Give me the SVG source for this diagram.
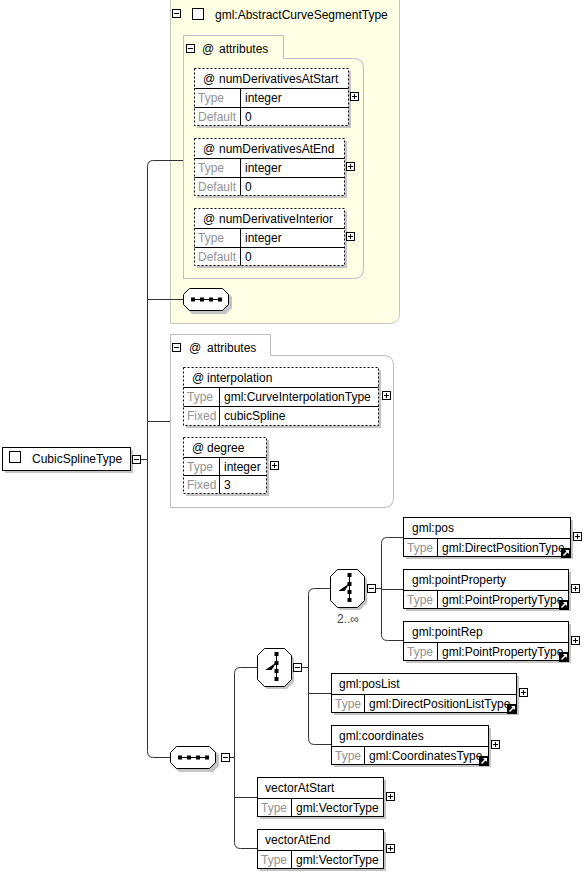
<svg xmlns="http://www.w3.org/2000/svg" xmlns:xlink="http://www.w3.org/1999/xlink" width="584" height="873" viewBox="0 0 584 873">
<style>
text { font-family: "Liberation Sans", Arial, sans-serif; font-size: 12px; fill: #000; }
.g { fill: #939393; }
.occ { font-size: 12px; fill: #444; }
.box { fill: #fff; stroke: #000; stroke-width: 1; }
.dbox { fill: none; stroke: #000; stroke-width: 1; stroke-dasharray: 2,2; }
.sh { fill: #c4c4c4; stroke: none; }
.ln { stroke: #000; stroke-width: 1; fill: none; }
.conn { stroke: #333; stroke-width: 1; fill: none; }
.panel { stroke: #bdbdbd; stroke-width: 1; }
.cb { fill: #fff; stroke: #000; stroke-width: 1; }
</style>
<defs>
  <g id="plus">
    <rect x="0.5" y="0.5" width="8" height="8" fill="#fff" stroke="#000"/>
    <path d="M2 4.5 H7 M4.5 2 V7" stroke="#000" stroke-width="1"/>
  </g>
  <g id="minus">
    <rect x="0.5" y="0.5" width="8" height="8" fill="#fff" stroke="#000"/>
    <path d="M2 4.5 H7" stroke="#000" stroke-width="1"/>
  </g>
  <g id="link">
    <rect x="0" y="0" width="10" height="10" fill="#000"/>
    <path d="M2.5 7.5 L6.5 3.5" stroke="#fff" stroke-width="1.6"/>
    <polygon points="4,2 8,2 8,6" fill="#fff"/>
  </g>
  <g id="seq">
    <path class="sh" d="M9 3 H43 L49 9 V20 L43 26 H9 L3 20 V9 Z"/>
    <path d="M6.5 0.5 H39.5 L45.5 6.5 V16.5 L39.5 22.5 H6.5 L0.5 16.5 V6.5 Z" fill="#fff" stroke="#000"/>
    <path d="M8 11.5 H39" stroke="#000"/>
    <rect x="8" y="9.5" width="4" height="4" fill="#000"/>
    <rect x="17" y="9.5" width="4" height="4" fill="#000"/>
    <rect x="26" y="9.5" width="4" height="4" fill="#000"/>
    <rect x="35" y="9.5" width="4" height="4" fill="#000"/>
  </g>
  <g id="choice">
    <path class="sh" d="M10 3 H30 L37 10 V34 L30 41 H10 L3 34 V10 Z"/>
    <path d="M7.5 0.5 H27.5 L34.5 7.5 V31.5 L27.5 38.5 H7.5 L0.5 31.5 V7.5 Z" fill="#fff" stroke="#000"/>
    <path d="M19.5 4 V33" stroke="#000"/>
    <rect x="17.5" y="4" width="4" height="4" fill="#000"/>
    <rect x="17.5" y="13" width="4" height="4" fill="#000"/>
    <rect x="17.5" y="21" width="4" height="4" fill="#000"/>
    <rect x="17.5" y="29" width="4" height="4" fill="#000"/>
    <path d="M9 21.5 H14.5 L18.5 15" stroke="#000"/>
  </g>
</defs>

<!-- base type group -->
<g id="base-type">
  <path d="M170.5 -2 V323.5 H389.5 Q399.5 323.5 399.5 313.5 V-2" fill="#ffffe6" stroke="#c6c6b8"/>
  <use xlink:href="#minus" x="172" y="9"/>
  <rect class="cb" x="192.5" y="8.5" width="11" height="11"/>
  <text x="215" y="19">gml:AbstractCurveSegmentType</text>
</g>

<g id="attributes-base">
  <path class="panel" d="M183.5 35.5 H283.5 V58.5 H353.5 Q363.5 58.5 363.5 68.5 V268.5 Q363.5 278.5 353.5 278.5 H183.5 Z" fill="none"/>
  <use xlink:href="#minus" x="186" y="44"/>
  <text x="202" y="53">@</text>
  <text x="219" y="53">attributes</text>
</g>

<g id="attr-numDerivativesAtStart">
  <rect class="sh" x="197" y="71" width="154" height="57"/>
  <rect x="194.5" y="68.5" width="154" height="57" fill="#fff"/>
  <path class="ln" d="M194.5 88.5 H348.5 M194.5 107.5 H348.5 M240.5 88.5 V125.5"/>
  <rect class="dbox" x="194.5" y="68.5" width="154" height="57"/>
  <text x="203" y="83">@</text>
  <text x="219" y="83">numDerivativesAtStart</text>
  <text class="g" x="198" y="102">Type</text>
  <text x="245" y="102">integer</text>
  <text class="g" x="198" y="121">Default</text>
  <text x="245" y="121">0</text>
  <use xlink:href="#plus" x="350" y="92"/>
</g>

<g id="attr-numDerivativesAtEnd">
  <rect class="sh" x="197" y="141" width="150" height="57"/>
  <rect x="194.5" y="138.5" width="150" height="57" fill="#fff"/>
  <path class="ln" d="M194.5 158.5 H344.5 M194.5 177.5 H344.5 M240.5 158.5 V195.5"/>
  <rect class="dbox" x="194.5" y="138.5" width="150" height="57"/>
  <text x="203" y="153">@</text>
  <text x="219" y="153">numDerivativesAtEnd</text>
  <text class="g" x="198" y="172">Type</text>
  <text x="245" y="172">integer</text>
  <text class="g" x="198" y="191">Default</text>
  <text x="245" y="191">0</text>
  <use xlink:href="#plus" x="346" y="162"/>
</g>

<g id="attr-numDerivativeInterior">
  <rect class="sh" x="197" y="211" width="150" height="57"/>
  <rect x="194.5" y="208.5" width="150" height="57" fill="#fff"/>
  <path class="ln" d="M194.5 228.5 H344.5 M194.5 247.5 H344.5 M240.5 228.5 V265.5"/>
  <rect class="dbox" x="194.5" y="208.5" width="150" height="57"/>
  <text x="203" y="223">@</text>
  <text x="219" y="223">numDerivativeInterior</text>
  <text class="g" x="198" y="242">Type</text>
  <text x="245" y="242">integer</text>
  <text class="g" x="198" y="261">Default</text>
  <text x="245" y="261">0</text>
  <use xlink:href="#plus" x="346" y="232"/>
</g>

<g id="sequence-base">
  <use xlink:href="#seq" x="183" y="288"/>
</g>

<g id="attributes-own">
  <path class="panel" d="M170.5 334.5 H270.5 V355.5 H383.5 Q393.5 355.5 393.5 365.5 V497.5 Q393.5 507.5 383.5 507.5 H170.5 Z" fill="#fff"/>
  <use xlink:href="#minus" x="172" y="343"/>
  <text x="189" y="352">@</text>
  <text x="207" y="352">attributes</text>
</g>

<g id="attr-interpolation">
  <rect class="sh" x="186" y="370" width="195" height="58"/>
  <rect x="183.5" y="367.5" width="195" height="58" fill="#fff"/>
  <path class="ln" d="M183.5 387.5 H378.5 M183.5 406.5 H378.5 M219.5 387.5 V425.5"/>
  <rect class="dbox" x="183.5" y="367.5" width="195" height="58"/>
  <text x="192" y="382">@</text>
  <text x="207" y="382">interpolation</text>
  <text class="g" x="187" y="401">Type</text>
  <text x="224" y="401">gml:CurveInterpolationType</text>
  <text class="g" x="187" y="420">Fixed</text>
  <text x="224" y="420">cubicSpline</text>
  <use xlink:href="#plus" x="382" y="391"/>
</g>

<g id="attr-degree">
  <rect class="sh" x="186" y="440" width="83" height="56"/>
  <rect x="183.5" y="437.5" width="83" height="56" fill="#fff"/>
  <path class="ln" d="M183.5 457.5 H266.5 M183.5 475.5 H266.5 M219.5 457.5 V493.5"/>
  <rect class="dbox" x="183.5" y="437.5" width="83" height="56"/>
  <text x="192" y="452">@</text>
  <text x="207" y="452">degree</text>
  <text class="g" x="187" y="471">Type</text>
  <text x="224" y="471">integer</text>
  <text class="g" x="187" y="489">Fixed</text>
  <text x="224" y="489">3</text>
  <use xlink:href="#plus" x="270" y="461"/>
</g>

<g id="CubicSplineType">
  <rect class="sh" x="5" y="450" width="128" height="23"/>
  <rect class="box" x="2.5" y="447.5" width="128" height="23"/>
  <rect class="cb" x="9.5" y="451.5" width="11" height="11"/>
  <text x="32" y="463">CubicSplineType</text>
  <use xlink:href="#minus" x="132" y="455"/>
</g>

<g id="sequence-own">
  <use xlink:href="#seq" x="170" y="746"/>
  <use xlink:href="#minus" x="221" y="753"/>
</g>

<g id="choice-outer">
  <use xlink:href="#choice" x="257" y="648"/>
  <use xlink:href="#minus" x="293" y="663"/>
</g>

<g id="choice-inner">
  <use xlink:href="#choice" x="330" y="569"/>
  <use xlink:href="#minus" x="367" y="584"/>
  <text class="occ" x="337" y="623">2..∞</text>
</g>

<g id="el-pos">
  <rect class="sh" x="406" y="520" width="167" height="39"/>
  <rect class="box" x="403.5" y="517.5" width="167" height="39"/>
  <path class="ln" d="M403.5 538.5 H570.5 M437.5 538.5 V556.5"/>
  <text x="412" y="532">gml:pos</text>
  <text class="g" x="407" y="552">Type</text>
  <text x="442" y="552">gml:DirectPositionType</text>
  <use xlink:href="#link" x="561" y="548"/>
  <use xlink:href="#plus" x="573" y="532"/>
</g>

<g id="el-pointProperty">
  <rect class="sh" x="406" y="572" width="165" height="39"/>
  <rect class="box" x="403.5" y="569.5" width="165" height="39"/>
  <path class="ln" d="M403.5 590.5 H568.5 M437.5 590.5 V608.5"/>
  <text x="412" y="584">gml:pointProperty</text>
  <text class="g" x="407" y="604">Type</text>
  <text x="442" y="604">gml:PointPropertyType</text>
  <use xlink:href="#link" x="559" y="600"/>
  <use xlink:href="#plus" x="571" y="584"/>
</g>

<g id="el-pointRep">
  <rect class="sh" x="406" y="624" width="165" height="39"/>
  <rect class="box" x="403.5" y="621.5" width="165" height="39"/>
  <path class="ln" d="M403.5 642.5 H568.5 M437.5 642.5 V660.5"/>
  <text x="412" y="636">gml:pointRep</text>
  <text class="g" x="407" y="656">Type</text>
  <text x="442" y="656">gml:PointPropertyType</text>
  <use xlink:href="#link" x="559" y="652"/>
  <use xlink:href="#plus" x="571" y="636"/>
</g>

<g id="el-posList">
  <rect class="sh" x="334" y="676" width="185" height="39"/>
  <rect class="box" x="331.5" y="673.5" width="185" height="39"/>
  <path class="ln" d="M331.5 694.5 H516.5 M364.5 694.5 V712.5"/>
  <text x="339" y="688">gml:posList</text>
  <text class="g" x="335" y="708">Type</text>
  <text x="369" y="708">gml:DirectPositionListType</text>
  <use xlink:href="#link" x="507" y="704"/>
  <use xlink:href="#plus" x="519" y="688"/>
</g>

<g id="el-coordinates">
  <rect class="sh" x="334" y="728" width="157" height="39"/>
  <rect class="box" x="331.5" y="725.5" width="157" height="39"/>
  <path class="ln" d="M331.5 746.5 H488.5 M364.5 746.5 V764.5"/>
  <text x="339" y="740">gml:coordinates</text>
  <text class="g" x="335" y="760">Type</text>
  <text x="369" y="760">gml:CoordinatesType</text>
  <use xlink:href="#link" x="479" y="756"/>
  <use xlink:href="#plus" x="491" y="740"/>
</g>

<g id="el-vectorAtStart">
  <rect class="sh" x="260" y="780" width="126" height="39"/>
  <rect class="box" x="257.5" y="777.5" width="126" height="39"/>
  <path class="ln" d="M257.5 798.5 H383.5 M291.5 798.5 V816.5"/>
  <text x="265" y="792">vectorAtStart</text>
  <text class="g" x="261" y="812">Type</text>
  <text x="296" y="812">gml:VectorType</text>
  <use xlink:href="#plus" x="386" y="792"/>
</g>

<g id="el-vectorAtEnd">
  <rect class="sh" x="260" y="832" width="126" height="39"/>
  <rect class="box" x="257.5" y="829.5" width="126" height="39"/>
  <path class="ln" d="M257.5 850.5 H383.5 M291.5 850.5 V868.5"/>
  <text x="265" y="844">vectorAtEnd</text>
  <text class="g" x="261" y="864">Type</text>
  <text x="296" y="864">gml:VectorType</text>
  <use xlink:href="#plus" x="386" y="844"/>
</g>

<g id="connectors">
  <path class="conn" d="M141 459.5 H147.5"/>
  <path class="conn" d="M183 160.5 H153.5 Q147.5 160.5 147.5 166.5 V751.5 Q147.5 757.5 153.5 757.5 H170"/>
  <path class="conn" d="M147.5 299.5 H183"/>
  <path class="conn" d="M147.5 421.5 H170"/>
  <path class="conn" d="M230 757.5 H234.5"/>
  <path class="conn" d="M257 667.5 H240.5 Q234.5 667.5 234.5 673.5 V842.5 Q234.5 848.5 240.5 848.5 H257"/>
  <path class="conn" d="M234.5 797.5 H257"/>
  <path class="conn" d="M302 667.5 H308.5"/>
  <path class="conn" d="M330 588.5 H314.5 Q308.5 588.5 308.5 594.5 V738.5 Q308.5 744.5 314.5 744.5 H331"/>
  <path class="conn" d="M308.5 693.5 H331"/>
  <path class="conn" d="M376 588.5 H381.5"/>
  <path class="conn" d="M403 537.5 H387.5 Q381.5 537.5 381.5 543.5 V634.5 Q381.5 640.5 387.5 640.5 H403"/>
  <path class="conn" d="M381.5 589.5 H403"/>
</g>
</svg>
